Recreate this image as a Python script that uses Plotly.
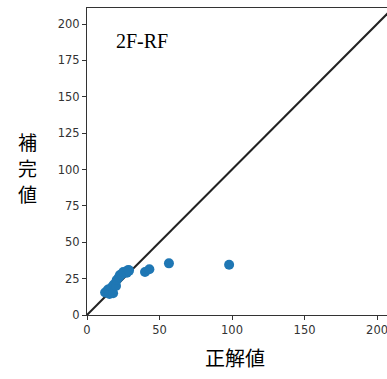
import plotly.graph_objects as go

# Data
true_vals = [12.5, 14.5, 15.5, 17.0, 18.0, 18.5, 20.0, 20.5, 22.0, 22.7, 24.0, 25.0, 27.5, 28.5, 29.0, 40.0, 43.0, 56.5, 98.0]
imputed_vals = [15.5, 17.5, 14.5, 19.0, 15.0, 21.0, 20.0, 24.0, 26.0, 27.5, 28.0, 29.5, 29.0, 31.0, 30.5, 29.5, 31.5, 35.5, 34.5]
diag = [0, 250]
ticks = [0, 25, 50, 75, 100, 125, 150, 175, 200]
xticks = [0, 50, 100, 150, 200]
ylabel_chars = ["補", "完", "値"]

fig = go.Figure()
fig.add_trace(go.Scatter(x=diag, y=diag, mode="lines",
                         line=dict(color="#222222", width=2), showlegend=False))
fig.add_trace(go.Scatter(x=true_vals, y=imputed_vals, mode="markers",
                         marker=dict(color="#1f77b4", size=10), showlegend=False))

W, H = 400, 379
L, T, B, R = 87, 8, 64, 7
fig.update_layout(
    width=W, height=H,
    margin=dict(l=L, r=R, t=T, b=B),
    plot_bgcolor="white", paper_bgcolor="white",
    font=dict(family="DejaVu Sans", size=11.5, color="#333333"),
)
fig.update_xaxes(range=[0, 211], tickvals=xticks, showgrid=False, zeroline=False,
                 showline=True, linecolor="#333333", linewidth=1, mirror=True,
                 ticks="outside", ticklen=4, tickcolor="#333333")
fig.update_yaxes(range=[0, 211], tickvals=ticks, showgrid=False, zeroline=False,
                 showline=True, linecolor="#333333", linewidth=1,
                 ticks="outside", ticklen=4, tickcolor="#333333")

pw, ph = W - L - R, H - T - B
fig.add_annotation(x=38, y=188, xref="x", yref="y", text="2F-RF", showarrow=False,
                   font=dict(family="Liberation Serif", size=20, color="black"))
for i, ch in enumerate(ylabel_chars):
    py = 141 + 26 * i
    fig.add_annotation(xref="paper", yref="paper", x=(27 - L) / pw, y=(H - B - py) / ph,
                       text=ch, showarrow=False, xanchor="center", yanchor="middle",
                       font=dict(family="Noto Sans CJK JP", size=19, color="black"))
fig.add_annotation(xref="paper", yref="paper", x=(235 - L) / pw, y=-(357 - (H - B)) / ph,
                   text="正解値", showarrow=False, xanchor="center", yanchor="middle",
                   font=dict(family="Noto Sans CJK JP", size=20, color="black"))

fig.write_html("out.html", config={"displayModeBar": False},
               post_script="document.body.style.margin='0';document.body.style.overflow='hidden';document.documentElement.style.overflow='hidden';")
